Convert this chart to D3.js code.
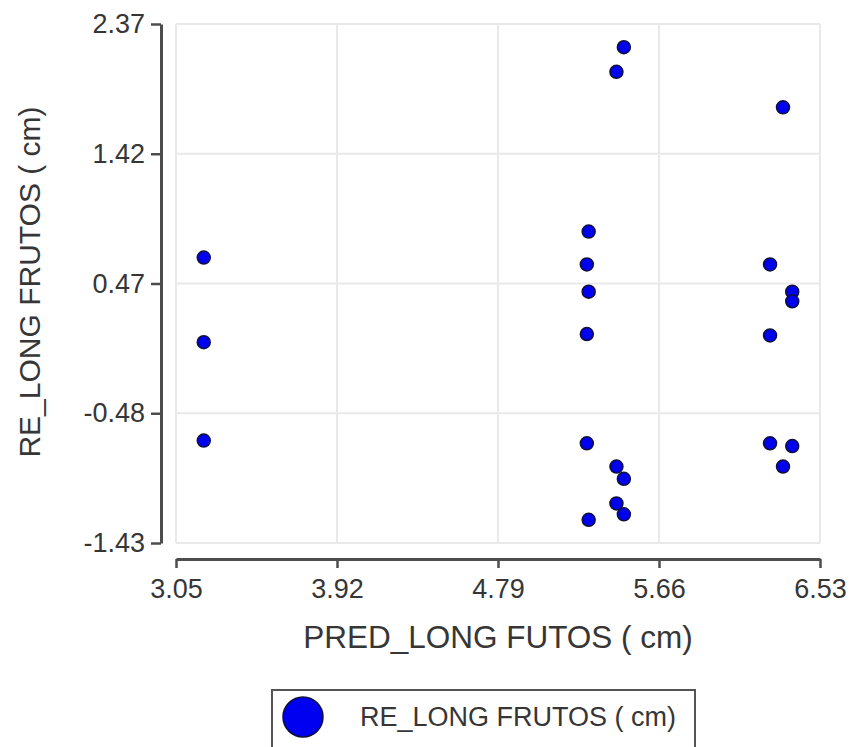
<!DOCTYPE html>
<html>
<head>
<meta charset="utf-8">
<script src="https://cdn.jsdelivr.net/npm/d3@7"></script>
<style>
  html, body { margin: 0; padding: 0; background: #ffffff; }
  svg { display: block; }
  text { font-family: "Liberation Sans", Arial, sans-serif; fill: #363636; }
</style>
</head>
<body>
<svg id="chart" width="856" height="747"></svg>
<script>
// Predicted fruit length (x) vs. residual (y), both in cm
const predLong = [
  3.20, 3.20, 3.20,
  5.28, 5.27, 5.28, 5.27, 5.27, 5.28,
  5.47, 5.43, 5.43, 5.47, 5.43, 5.47,
  6.33, 6.26, 6.38, 6.38, 6.26, 6.26, 6.38, 6.33
];
const resLong = [
  0.66, 0.04, -0.68,
  0.85, 0.61, 0.41, 0.10, -0.70, -1.26,
  2.20, 2.02, -0.87, -0.96, -1.14, -1.22,
  1.76, 0.61, 0.41, 0.34, 0.09, -0.70, -0.72, -0.87
];
const xTicks = [3.05, 3.92, 4.79, 5.66, 6.53];
const yTicks = [-1.43, -0.48, 0.47, 1.42, 2.37];
const xTitle = "PRED_LONG FUTOS ( cm)";
const yTitle = "RE_LONG FRUTOS ( cm)";
const seriesName = "RE_LONG FRUTOS ( cm)";

const svg = d3.select("#chart");

const x = d3.scaleLinear().domain([3.05, 6.53]).range([176, 820]);
const y = d3.scaleLinear().domain([-1.43, 2.37]).range([543, 24]);
// two decimals, plain hyphen for negatives
const fmt = d => d3.format(".2f")(d).replace("\u2212", "-");

// Grid
const grid = svg.append("g").attr("stroke", "#e9e9e9").attr("stroke-width", 2);
grid.selectAll("line.v").data(xTicks).join("line")
  .attr("x1", d => x(d)).attr("x2", d => x(d))
  .attr("y1", y.range()[1]).attr("y2", y.range()[0]);
grid.selectAll("line.h").data(yTicks).join("line")
  .attr("x1", x.range()[0]).attr("x2", x.range()[1])
  .attr("y1", d => y(d)).attr("y2", d => y(d));

// Axes, offset from the plot area
const xAxis = svg.append("g")
  .attr("transform", "translate(0,559)")
  .call(d3.axisBottom(x).tickValues(xTicks).tickFormat(fmt).tickSize(9).tickSizeOuter(0).tickPadding(11));
const yAxis = svg.append("g")
  .attr("transform", "translate(161,0)")
  .call(d3.axisLeft(y).tickValues(yTicks).tickFormat(fmt).tickSize(10).tickSizeOuter(0).tickPadding(6));

[xAxis, yAxis].forEach(a => {
  a.select(".domain").attr("stroke", "#4d4d4d").attr("stroke-width", 3);
  a.selectAll(".tick line").attr("stroke", "#4d4d4d").attr("stroke-width", 2.5);
  a.selectAll(".tick text")
    .attr("fill", "#363636")
    .style("font-size", "27px")
    .style("font-family", "'Liberation Sans', Arial, sans-serif");
});

// Axis titles
svg.append("text")
  .attr("x", 498).attr("y", 648)
  .attr("text-anchor", "middle")
  .style("font-size", "31.5px")
  .text(xTitle);
svg.append("text")
  .attr("transform", "translate(40,282) rotate(-90)")
  .attr("text-anchor", "middle")
  .style("font-size", "30px")
  .text(yTitle);

// Points
const pts = predLong.map((v, i) => ({ x: v, y: resLong[i] }));
svg.append("g").selectAll("circle").data(pts).join("circle")
  .attr("cx", d => x(d.x))
  .attr("cy", d => y(d.y))
  .attr("r", 6.5)
  .attr("fill", "#0000f0")
  .attr("stroke", "#10103a")
  .attr("stroke-width", 1.5);

// Legend
const lg = svg.append("g");
lg.append("rect")
  .attr("x", 272).attr("y", 690).attr("width", 423).attr("height", 90)
  .attr("fill", "#ffffff").attr("stroke", "#555555").attr("stroke-width", 2);
lg.append("circle")
  .attr("cx", 303).attr("cy", 717).attr("r", 20)
  .attr("fill", "#0000f0").attr("stroke", "#10103a").attr("stroke-width", 1.5);
lg.append("text")
  .attr("x", 360).attr("y", 726)
  .style("font-size", "27px")
  .text(seriesName);
</script>
</body>
</html>
